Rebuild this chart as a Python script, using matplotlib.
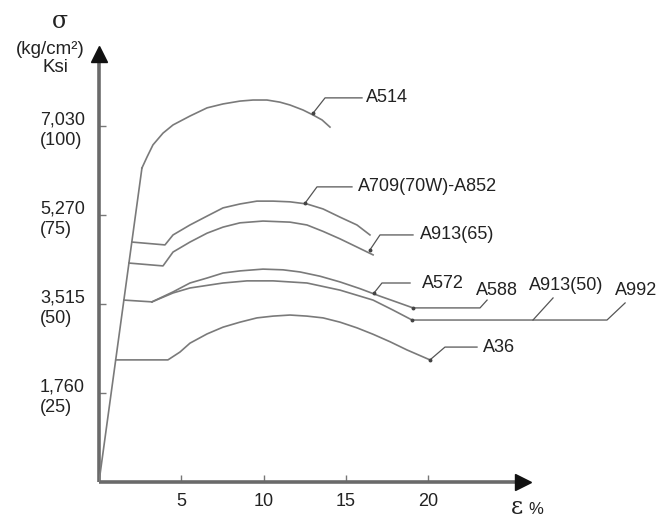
import matplotlib.pyplot as plt

plt.rcParams['font.family'] = ['Liberation Sans', 'DejaVu Sans']

# stress-strain curves, strain in %, stress in ksi
elastic_strain = [0, 2.61]
elastic_stress = [0, 88.2]

a514_strain = [2.61, 2.92, 3.28, 3.89, 4.50, 5.53, 6.57, 7.54, 8.57, 9.36, 10.21, 11.0, 11.61,
               12.40, 13.01, 13.56, 14.04]
a514_stress = [88.2, 91.3, 94.7, 98.0, 100.3, 102.8, 105.1, 106.2, 107.0, 107.3, 107.3, 106.7, 105.9,
               104.5, 103.1, 101.7, 99.7]

a709_strain = [2.0, 4.01, 4.50, 5.53, 6.57, 7.54, 8.57, 9.60, 10.58, 11.61, 12.64, 13.62, 14.65,
               15.68, 16.47]
a709_stress = [67.4, 66.6, 69.4, 72.2, 74.7, 77.0, 78.1, 78.9, 78.9, 78.7, 78.1, 76.7, 74.4,
               72.2, 69.4]

a913_65_strain = [1.82, 3.89, 4.50, 5.53, 6.57, 7.54, 8.57, 9.97, 11.61, 12.64, 13.62, 14.65,
                  15.68, 16.66]
a913_65_stress = [61.5, 60.7, 64.6, 67.4, 69.9, 71.6, 72.8, 73.3, 73.0, 72.2, 70.4, 68.3,
                  66.0, 63.8]

plateau50_strain = [1.51, 3.22]
plateau50_stress = [51.1, 50.6]

a572_strain = [3.22, 4.50, 5.53, 6.57, 7.54, 8.57, 9.97, 11.19, 12.22, 13.44, 14.65, 15.87,
               17.08, 18.12, 19.09]
a572_stress = [50.6, 53.4, 55.9, 57.3, 58.7, 59.3, 59.8, 59.6, 59.0, 57.8, 56.2, 54.3,
               52.2, 50.5, 48.9]

a992_strain = [3.22, 4.50, 5.53, 7.54, 9.00, 10.58, 12.64, 14.65, 16.66, 17.87, 19.03]
a992_stress = [50.6, 53.1, 54.5, 55.9, 56.5, 56.5, 55.9, 53.9, 51.1, 48.3, 45.5]

a36_strain = [1.02, 4.19, 4.92, 5.53, 6.57, 7.54, 8.57, 9.60, 10.58, 11.61, 12.64, 13.62,
              14.65, 15.68, 16.66, 17.69, 18.72, 20.12]
a36_stress = [34.3, 34.3, 36.5, 39.0, 41.6, 43.5, 44.9, 46.1, 46.6, 46.9, 46.6, 46.1,
              44.9, 43.3, 41.5, 39.4, 37.1, 34.3]

x_ticks = [5, 10, 15, 20]
y_ticks = [25, 50, 75, 100]
y_tick_labels = ['1,760\n(25)', '3,515\n(50)', '5,270\n(75)', '7,030\n(100)']

curve_color = '#7a7a7a'
leader_color = '#555555'
text_color = '#222222'

fig = plt.figure(figsize=(6.59, 5.18), dpi=100)
ax = fig.add_axes([99 / 659, 36 / 518, 560 / 659, 442 / 518])
ax.set_xlim(0, 34.04)
ax.set_ylim(0, 124.16)
for s in ax.spines.values():
    s.set_visible(False)

# axes with arrows
x_end, y_end = 26.2, 121.9
ax.plot([0, x_end - 0.4], [0, 0], color='#6a6a6a', lw=2.6, clip_on=False, solid_capstyle='butt')
ax.plot([0, 0], [0, y_end - 1.5], color='#6a6a6a', lw=2.6, clip_on=False, solid_capstyle='butt')
ax.plot(x_end - 0.4, 0, marker='>', ms=11, color='#111111', clip_on=False)
ax.plot(0, y_end - 1.8, marker='^', ms=11, color='#111111', clip_on=False)

ax.set_xticks(x_ticks)
ax.set_xticklabels([str(v) for v in x_ticks])
ax.set_yticks(y_ticks)
ax.set_yticklabels(y_tick_labels, multialignment='left', linespacing=1.3)
ax.tick_params(axis='both', direction='in', length=5, width=1, color='#777777',
               labelsize=13, labelcolor=text_color)
ax.tick_params(axis='x', pad=8)
ax.tick_params(axis='y', pad=10)

# curves
lw = 1.2
ax.plot(elastic_strain, elastic_stress, color=curve_color, lw=lw)
ax.plot(a514_strain, a514_stress, color=curve_color, lw=lw)
ax.plot(a709_strain, a709_stress, color=curve_color, lw=lw)
ax.plot(a913_65_strain, a913_65_stress, color=curve_color, lw=lw)
ax.plot(plateau50_strain, plateau50_stress, color=curve_color, lw=lw)
ax.plot(a572_strain, a572_stress, color=curve_color, lw=lw)
ax.plot(a992_strain, a992_stress, color=curve_color, lw=lw)
ax.plot(a36_strain, a36_stress, color=curve_color, lw=lw)


def leader(xs, ys):
    ax.plot(xs, ys, color=leader_color, lw=0.9, clip_on=False)
    ax.plot(xs[0], ys[0], marker='o', ms=1.8, color='#444444', clip_on=False)


lab = dict(fontsize=13, color=text_color, va='center')

leader([13.01, 13.74, 15.99], [103.6, 107.9, 107.9])
ax.text(16.23, 107.9, 'A514', **lab)

leader([12.52, 13.25, 15.38], [78.3, 82.9, 82.9])
ax.text(15.74, 82.9, 'A709(70W)-A852', **lab)

leader([16.47, 17.08, 19.09], [65.2, 69.4, 69.4])
ax.text(19.51, 69.4, 'A913(65)', **lab)

leader([16.70, 17.20, 18.91], [53.0, 55.9, 55.9])
ax.text(19.64, 55.9, 'A572', **lab)

leader([a572_strain[-1], 23.16, 23.59], [a572_stress[-1], 48.9, 51.1])
ax.text(24.19, 53.9, 'A588', ha='center', **lab)

leader([a992_strain[-1], 30.88, 31.98], [a992_stress[-1], 45.5, 50.3])
ax.plot([26.38, 27.60], [45.5, 51.7], color=leader_color, lw=0.9)
ax.text(28.39, 55.3, 'A913(50)', ha='center', **lab)
ax.text(32.64, 53.9, 'A992', ha='center', **lab)

leader([a36_strain[-1], 21.03, 22.98], [a36_stress[-1], 37.9, 37.9])
ax.text(23.34, 37.9, 'A36', **lab)

# axis titles
fig.text(60 / 659, 1 - 21 / 518, 'σ', family=['DejaVu Serif'], fontsize=17,
         ha='center', va='center', color=text_color)
fig.text(50 / 659, 1 - 50 / 518, '(kg/cm²)', fontsize=13.5, ha='center', va='center', color=text_color)
fig.text(55 / 659, 1 - 67 / 518, 'Ksi', fontsize=13.5, ha='center', va='center', color=text_color)
fig.text(517 / 659, 1 - 507 / 518, 'ε', family=['DejaVu Serif'], fontsize=17,
         ha='center', va='center', color=text_color)
fig.text(536 / 659, 1 - 509 / 518, '%', fontsize=12, ha='center', va='center', color=text_color)

fig.savefig('out.png', dpi=100)
